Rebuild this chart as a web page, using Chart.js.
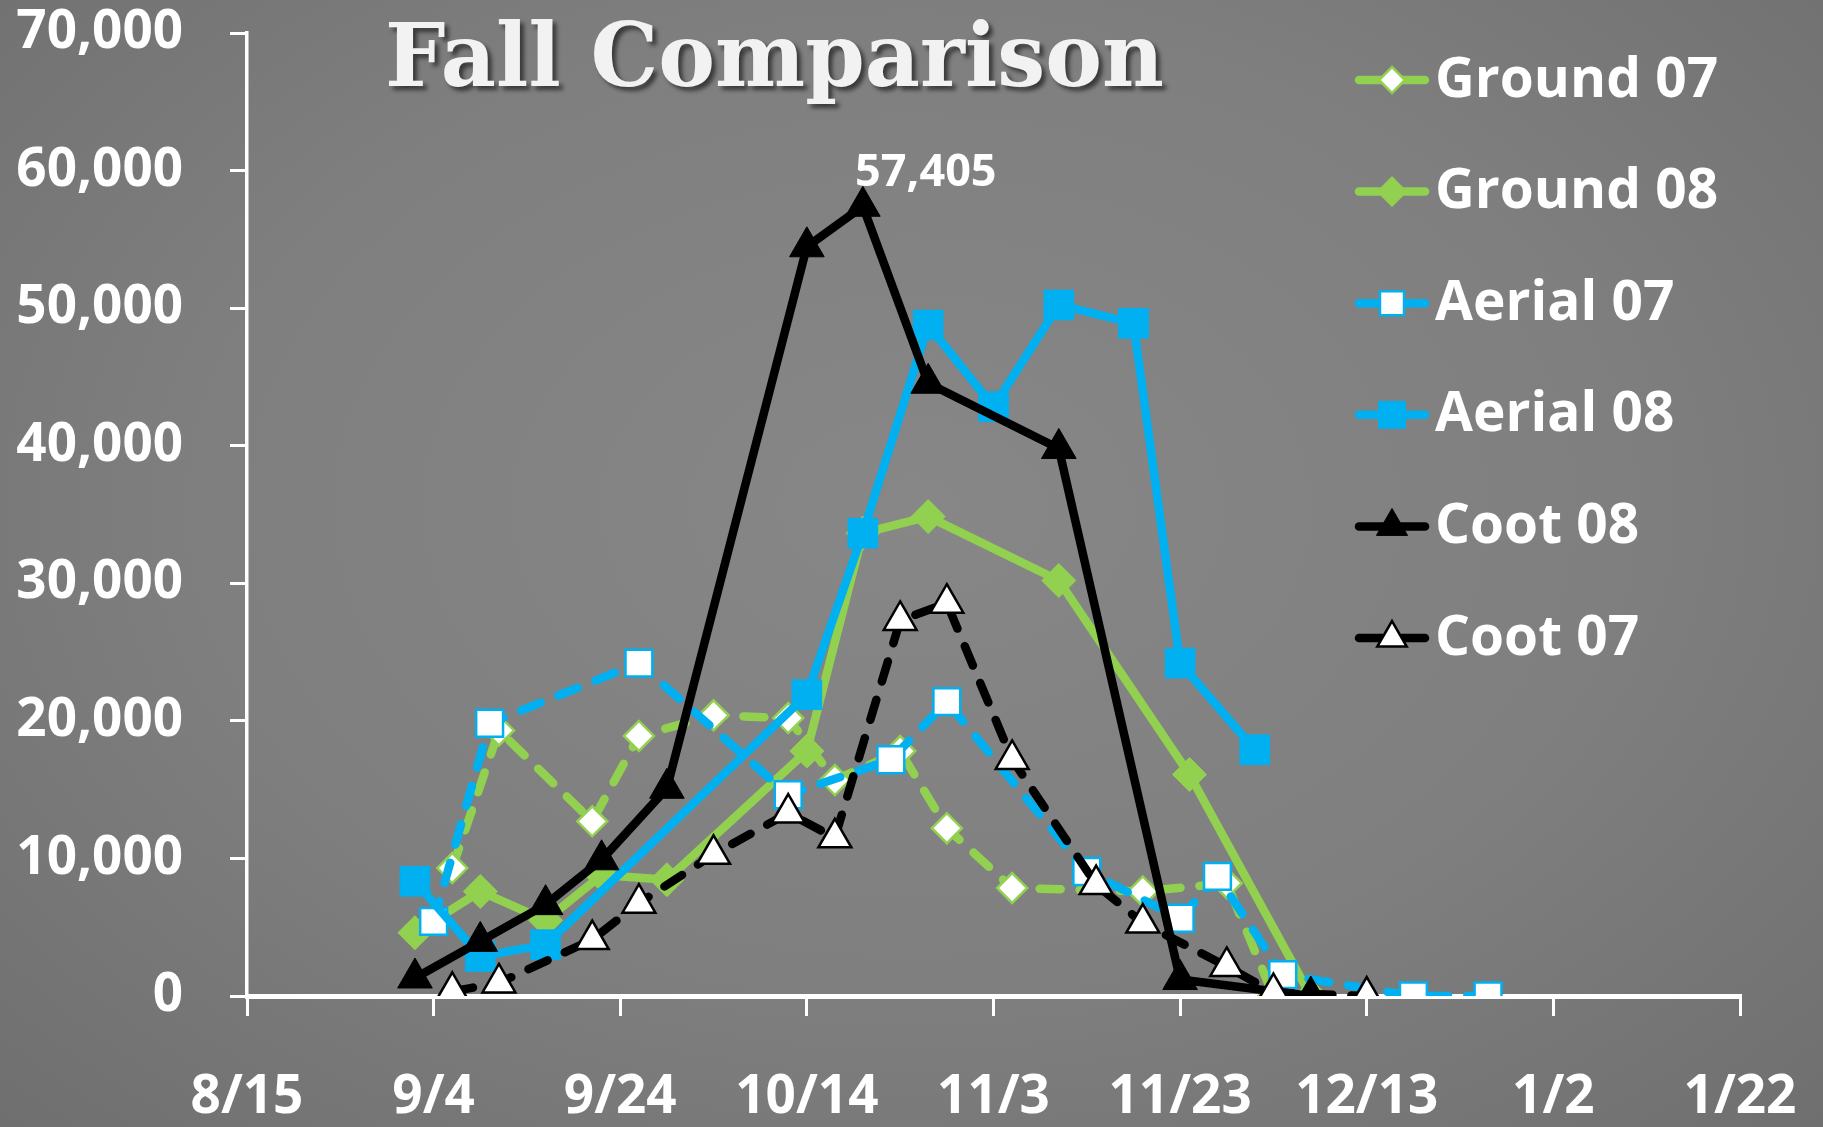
<!DOCTYPE html>
<html>
<head>
<meta charset="utf-8">
<title>Fall Comparison</title>
<script src="https://cdn.jsdelivr.net/npm/chart.js@4.4.1/dist/chart.umd.min.js"></script>
<style>
  html, body { margin: 0; padding: 0; }
  body { width: 1823px; height: 1127px; overflow: hidden; background: #7b7b7b; }
  #wrap {
    position: relative; width: 1823px; height: 1127px;
    background: radial-gradient(ellipse at 50% 45%, #878787 0%, #7f7f7f 55%, #6f6f6f 100%);
  }
</style>
</head>
<body>
<div id="wrap"><canvas id="fallChart"></canvas></div>
<script>
// tick labels on the date axis (20 day steps)
var xTickLabels = ["8/15", "9/4", "9/24", "10/14", "11/3", "11/23", "12/13", "1/2", "1/22"];

// series
var ground07Dates = ["9/6", "9/11", "9/21", "9/26", "10/4", "10/12", "10/17", "10/24", "10/29", "11/5", "11/19", "11/28", "12/3"];
var ground07 = [9300, 19300, 12700, 18900, 20400, 20200, 15700, 17800, 12200, 7850, 7600, 8200, 0];

var ground08Dates = ["9/2", "9/9", "9/16", "9/22", "9/29", "10/14", "10/20", "10/27", "11/10", "11/24", "12/7"];
var ground08 = [4600, 7600, 5500, 8800, 8450, 17800, 33650, 34850, 30200, 16100, 0];

var aerial07Dates = ["9/4", "9/10", "9/26", "10/12", "10/23", "10/29", "11/13", "11/23", "11/27", "12/4", "12/18", "12/26"];
var aerial07 = [5420, 19830, 24200, 14630, 17170, 21400, 9050, 5650, 8700, 1550, 0, 0];

var aerial08Dates = ["9/2", "9/9", "9/16", "10/14", "10/20", "10/27", "11/3", "11/10", "11/18", "11/23", "12/1"];
var aerial08 = [8340, 2880, 3730, 21900, 33640, 48770, 42830, 50230, 48900, 24200, 17900];

var coot08Dates = ["9/2", "9/9", "9/16", "9/22", "9/29", "10/14", "10/20", "10/27", "11/10", "11/23", "12/7"];
var coot08 = [1310, 3970, 6640, 9900, 15100, 54460, 57405, 44540, 39800, 1200, 0];

var coot07Dates = ["9/6", "9/11", "9/21", "9/26", "10/4", "10/12", "10/17", "10/24", "10/29", "11/5", "11/14", "11/19", "11/28", "12/3", "12/13"];
var coot07 = [340, 950, 4100, 6750, 10300, 13300, 11500, 27300, 28550, 17200, 8100, 5300, 2150, 250, 0];

var GREEN = "#92d050", BLUE = "#00b0f0", BLACK = "#000000", WHITE = "#ffffff";
var FONT = '"Open Sans", "DejaVu Sans", sans-serif';

// "m/d" -> days after 8/15/2008 (Jan/Feb fall in 2009)
function toDay(s) {
    var p = s.split("/");
    var m = +p[0], d = +p[1];
    var y = m < 7 ? 2009 : 2008;
    return (Date.UTC(y, m - 1, d) - Date.UTC(2008, 7, 15)) / 864e5;
}
function points(dates, vals) {
    return dates.map(function (s, i) { return { x: toDay(s), y: vals[i] }; });
}

function drawMarker(ctx, style, r, x, y) {
    ctx.beginPath();
    if (style === "rectRot") {
        ctx.moveTo(x, y - r); ctx.lineTo(x + r, y); ctx.lineTo(x, y + r); ctx.lineTo(x - r, y);
    } else if (style === "rect") {
        var h = r * Math.SQRT1_2;
        ctx.rect(x - h, y - h, 2 * h, 2 * h);
    } else {
        ctx.moveTo(x, y - r);
        ctx.lineTo(x + r * Math.sin(2 * Math.PI / 3), y - r * Math.cos(2 * Math.PI / 3));
        ctx.lineTo(x + r * Math.sin(4 * Math.PI / 3), y - r * Math.cos(4 * Math.PI / 3));
    }
    ctx.closePath();
    ctx.fill();
    ctx.stroke();
}

// legend on the right, drawn over the plot like the original
var sideLegend = {
    id: "sideLegend",
    afterDraw: function (chart) {
        var ctx = chart.ctx;
        chart.data.datasets.forEach(function (ds, i) {
            var y = 80 + i * 111.6;
            ctx.save();
            ctx.strokeStyle = ds.borderColor;
            ctx.lineWidth = 8.5;
            ctx.lineCap = "round";
            ctx.beginPath(); ctx.moveTo(1359, y); ctx.lineTo(1425, y); ctx.stroke();
            ctx.fillStyle = ds.pointBackgroundColor;
            ctx.strokeStyle = ds.pointBorderColor;
            ctx.lineWidth = ds.pointBorderWidth;
            ctx.lineCap = "butt";
            drawMarker(ctx, ds.pointStyle, ds.pointRadius - 2, 1392, y);
            ctx.fillStyle = WHITE;
            ctx.font = "bold 55px " + FONT;
            ctx.textBaseline = "middle";
            ctx.textAlign = "left";
            ctx.fillText(ds.label, 1435, y + 1);
            ctx.restore();
        });
    }
};

// title and the peak label
var titleAndPeak = {
    id: "titleAndPeak",
    afterDraw: function (chart) {
        var ctx = chart.ctx;
        ctx.save();
        ctx.font = "bold 88px 'DejaVu Serif', serif";
        var w = ctx.measureText("Fall Comparison").width;
        ctx.translate(385, 86);
        ctx.scale(779 / w, 1);
        ctx.shadowColor = "rgba(0,0,0,0.55)";
        ctx.shadowOffsetX = 4;
        ctx.shadowOffsetY = 4;
        ctx.shadowBlur = 4;
        ctx.fillStyle = "#f2f2f2";
        ctx.textBaseline = "alphabetic";
        ctx.fillText("Fall Comparison", 0, 0);
        ctx.restore();

        var idx = chart.data.datasets.findIndex(function (d) { return d.label === "Coot 08"; });
        var meta = chart.getDatasetMeta(idx);
        var peak = coot08.indexOf(Math.max.apply(null, coot08));
        var pt = meta.data[peak];
        ctx.save();
        ctx.font = "bold 45px " + FONT;
        ctx.fillStyle = WHITE;
        ctx.textAlign = "center";
        ctx.textBaseline = "middle";
        ctx.fillText(coot08[peak].toLocaleString("en-US"), pt.x + 63, pt.y - 33);
        ctx.restore();
    }
};

var solid = { borderWidth: 8.5, borderJoinStyle: "round", borderCapStyle: "round", tension: 0, fill: false };
var dashed = Object.assign({}, solid, { borderDash: [21, 19] });

var fallChart = new Chart(document.getElementById("fallChart").getContext("2d"), {
    type: "line",
    data: {
        datasets: [
            Object.assign({}, dashed, {
                label: "Ground 07", data: points(ground07Dates, ground07), order: 5,
                borderColor: GREEN, pointStyle: "rectRot", pointRadius: 15,
                pointBackgroundColor: WHITE, pointBorderColor: GREEN, pointBorderWidth: 2.5
            }),
            Object.assign({}, solid, {
                label: "Ground 08", data: points(ground08Dates, ground08), order: 4,
                borderColor: GREEN, pointStyle: "rectRot", pointRadius: 17,
                pointBackgroundColor: GREEN, pointBorderColor: GREEN, pointBorderWidth: 1
            }),
            Object.assign({}, dashed, {
                label: "Aerial 07", data: points(aerial07Dates, aerial07), order: 3,
                borderColor: BLUE, pointStyle: "rect", pointRadius: 19,
                pointBackgroundColor: WHITE, pointBorderColor: BLUE, pointBorderWidth: 2.5
            }),
            Object.assign({}, solid, {
                label: "Aerial 08", data: points(aerial08Dates, aerial08), order: 2,
                borderColor: BLUE, pointStyle: "rect", pointRadius: 21,
                pointBackgroundColor: BLUE, pointBorderColor: BLUE, pointBorderWidth: 1
            }),
            Object.assign({}, solid, {
                label: "Coot 08", data: points(coot08Dates, coot08), order: 1,
                borderColor: BLACK, pointStyle: "triangle", pointRadius: 20,
                pointBackgroundColor: BLACK, pointBorderColor: BLACK, pointBorderWidth: 1
            }),
            Object.assign({}, dashed, {
                label: "Coot 07", data: points(coot07Dates, coot07), order: 0,
                borderColor: BLACK, pointStyle: "triangle", pointRadius: 19,
                pointBackgroundColor: WHITE, pointBorderColor: BLACK, pointBorderWidth: 2.5
            })
        ]
    },
    options: {
        responsive: true,
        maintainAspectRatio: false,
        animation: false,
        events: [],
        layout: { padding: { top: 33, right: 83, left: 0, bottom: 0 } },
        plugins: { legend: { display: false }, tooltip: { enabled: false }, title: { display: false } },
        scales: {
            x: {
                type: "linear",
                min: toDay(xTickLabels[0]),
                max: toDay(xTickLabels[xTickLabels.length - 1]),
                afterFit: function (scale) {
                    scale.height = 131;
                    scale.paddingLeft = 0;
                    scale.paddingRight = 0;
                },
                ticks: {
                    stepSize: 20,
                    color: WHITE,
                    font: { family: FONT, size: 53, weight: "bold" },
                    padding: 50,
                    maxRotation: 0,
                    autoSkip: false,
                    callback: function (v, i) { return xTickLabels[i]; }
                },
                grid: { drawOnChartArea: false, drawTicks: true, tickLength: 20, color: WHITE, lineWidth: 3 },
                border: { display: true, color: WHITE, width: 5 }
            },
            y: {
                min: 0,
                max: 70000,
                afterFit: function (scale) {
                    scale.width = 247;
                    scale.paddingTop = 0;
                    scale.paddingBottom = 0;
                },
                ticks: {
                    stepSize: 10000,
                    color: WHITE,
                    font: { family: FONT, size: 53, weight: "bold" },
                    padding: 47,
                    callback: function (v) { return v.toLocaleString("en-US"); }
                },
                grid: { drawOnChartArea: false, drawTicks: true, tickLength: 17, color: WHITE, lineWidth: 3 },
                border: { display: true, color: WHITE, width: 3.5 }
            }
        }
    },
    plugins: [sideLegend, titleAndPeak]
});
</script>
</body>
</html>
